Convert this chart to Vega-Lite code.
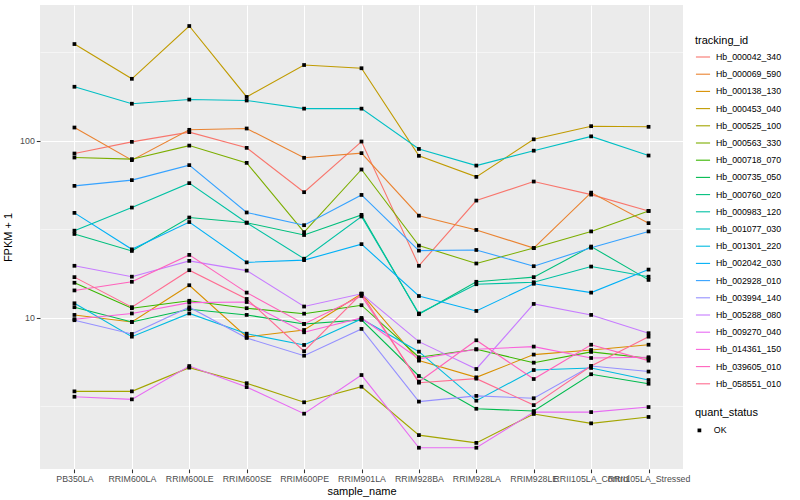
{
 "$schema": "https://vega.github.io/schema/vega-lite/v6.json",
 "width": 643,
 "height": 464,
 "autosize": {"type": "none"},
 "padding": {"left": 40, "top": 5, "right": 117, "bottom": 31},
 "background": "white",
 "config": {
  "font": "Liberation Sans",
  "view": {"fill": "#EBEBEB", "stroke": null},
  "axis": {"domain": false, "gridColor": "white", "gridWidth": 1.07, "tickColor": "#333333", "tickSize": 3.7, "tickWidth": 1.07, "labelColor": "#4D4D4D", "labelFontSize": 8.8, "labelPadding": 2, "titleFontSize": 11, "titleFontWeight": "normal", "titleColor": "black"},
  "legend": {"titleFontSize": 11, "titleFontWeight": "normal", "titleColor": "black", "labelFontSize": 8.8, "labelColor": "black"}
 },
 "data": {"values": [
  {"t":"Hb_000042_340","s":"PB350LA","v":84.8,"q":"OK"},{"t":"Hb_000042_340","s":"RRIM600LA","v":98.7,"q":"OK"},{"t":"Hb_000042_340","s":"RRIM600LE","v":112,"q":"OK"},{"t":"Hb_000042_340","s":"RRIM600SE","v":91.3,"q":"OK"},{"t":"Hb_000042_340","s":"RRIM600PE","v":51.3,"q":"OK"},{"t":"Hb_000042_340","s":"RRIM901LA","v":99.1,"q":"OK"},{"t":"Hb_000042_340","s":"RRIM928BA","v":19.7,"q":"OK"},{"t":"Hb_000042_340","s":"RRIM928LA","v":46.0,"q":"OK"},{"t":"Hb_000042_340","s":"RRIM928LE","v":58.9,"q":"OK"},{"t":"Hb_000042_340","s":"RRII105LA_Control","v":49.7,"q":"OK"},{"t":"Hb_000042_340","s":"RRII105LA_Stressed","v":40.2,"q":"OK"},
  {"t":"Hb_000069_590","s":"PB350LA","v":118.9,"q":"OK"},{"t":"Hb_000069_590","s":"RRIM600LA","v":77.8,"q":"OK"},{"t":"Hb_000069_590","s":"RRIM600LE","v":115.4,"q":"OK"},{"t":"Hb_000069_590","s":"RRIM600SE","v":117.4,"q":"OK"},{"t":"Hb_000069_590","s":"RRIM600PE","v":80.2,"q":"OK"},{"t":"Hb_000069_590","s":"RRIM901LA","v":85.2,"q":"OK"},{"t":"Hb_000069_590","s":"RRIM928BA","v":37.8,"q":"OK"},{"t":"Hb_000069_590","s":"RRIM928LA","v":31.4,"q":"OK"},{"t":"Hb_000069_590","s":"RRIM928LE","v":24.8,"q":"OK"},{"t":"Hb_000069_590","s":"RRII105LA_Control","v":51.0,"q":"OK"},{"t":"Hb_000069_590","s":"RRII105LA_Stressed","v":34.3,"q":"OK"},
  {"t":"Hb_000138_130","s":"PB350LA","v":10.4,"q":"OK"},{"t":"Hb_000138_130","s":"RRIM600LA","v":9.49,"q":"OK"},{"t":"Hb_000138_130","s":"RRIM600LE","v":15.3,"q":"OK"},{"t":"Hb_000138_130","s":"RRIM600SE","v":7.81,"q":"OK"},{"t":"Hb_000138_130","s":"RRIM600PE","v":8.55,"q":"OK"},{"t":"Hb_000138_130","s":"RRIM901LA","v":13.7,"q":"OK"},{"t":"Hb_000138_130","s":"RRIM928BA","v":5.74,"q":"OK"},{"t":"Hb_000138_130","s":"RRIM928LA","v":4.62,"q":"OK"},{"t":"Hb_000138_130","s":"RRIM928LE","v":6.21,"q":"OK"},{"t":"Hb_000138_130","s":"RRII105LA_Control","v":6.59,"q":"OK"},{"t":"Hb_000138_130","s":"RRII105LA_Stressed","v":7.06,"q":"OK"},
  {"t":"Hb_000453_040","s":"PB350LA","v":352,"q":"OK"},{"t":"Hb_000453_040","s":"RRIM600LA","v":224,"q":"OK"},{"t":"Hb_000453_040","s":"RRIM600LE","v":445,"q":"OK"},{"t":"Hb_000453_040","s":"RRIM600SE","v":177,"q":"OK"},{"t":"Hb_000453_040","s":"RRIM600PE","v":268,"q":"OK"},{"t":"Hb_000453_040","s":"RRIM901LA","v":257,"q":"OK"},{"t":"Hb_000453_040","s":"RRIM928BA","v":82.3,"q":"OK"},{"t":"Hb_000453_040","s":"RRIM928LA","v":62.6,"q":"OK"},{"t":"Hb_000453_040","s":"RRIM928LE","v":102,"q":"OK"},{"t":"Hb_000453_040","s":"RRII105LA_Control","v":121,"q":"OK"},{"t":"Hb_000453_040","s":"RRII105LA_Stressed","v":120,"q":"OK"},
  {"t":"Hb_000525_100","s":"PB350LA","v":3.85,"q":"OK"},{"t":"Hb_000525_100","s":"RRIM600LA","v":3.85,"q":"OK"},{"t":"Hb_000525_100","s":"RRIM600LE","v":5.24,"q":"OK"},{"t":"Hb_000525_100","s":"RRIM600SE","v":4.28,"q":"OK"},{"t":"Hb_000525_100","s":"RRIM600PE","v":3.34,"q":"OK"},{"t":"Hb_000525_100","s":"RRIM901LA","v":4.09,"q":"OK"},{"t":"Hb_000525_100","s":"RRIM928BA","v":2.18,"q":"OK"},{"t":"Hb_000525_100","s":"RRIM928LA","v":1.97,"q":"OK"},{"t":"Hb_000525_100","s":"RRIM928LE","v":2.87,"q":"OK"},{"t":"Hb_000525_100","s":"RRII105LA_Control","v":2.54,"q":"OK"},{"t":"Hb_000525_100","s":"RRII105LA_Stressed","v":2.76,"q":"OK"},
  {"t":"Hb_000563_330","s":"PB350LA","v":80.5,"q":"OK"},{"t":"Hb_000563_330","s":"RRIM600LA","v":78.8,"q":"OK"},{"t":"Hb_000563_330","s":"RRIM600LE","v":94,"q":"OK"},{"t":"Hb_000563_330","s":"RRIM600SE","v":75.1,"q":"OK"},{"t":"Hb_000563_330","s":"RRIM600PE","v":30.5,"q":"OK"},{"t":"Hb_000563_330","s":"RRIM901LA","v":68.9,"q":"OK"},{"t":"Hb_000563_330","s":"RRIM928BA","v":25.6,"q":"OK"},{"t":"Hb_000563_330","s":"RRIM928LA","v":20.3,"q":"OK"},{"t":"Hb_000563_330","s":"RRIM928LE","v":24.8,"q":"OK"},{"t":"Hb_000563_330","s":"RRII105LA_Control","v":30.8,"q":"OK"},{"t":"Hb_000563_330","s":"RRII105LA_Stressed","v":40.2,"q":"OK"},
  {"t":"Hb_000718_070","s":"PB350LA","v":15.8,"q":"OK"},{"t":"Hb_000718_070","s":"RRIM600LA","v":11.35,"q":"OK"},{"t":"Hb_000718_070","s":"RRIM600LE","v":12.5,"q":"OK"},{"t":"Hb_000718_070","s":"RRIM600SE","v":11.35,"q":"OK"},{"t":"Hb_000718_070","s":"RRIM600PE","v":10.57,"q":"OK"},{"t":"Hb_000718_070","s":"RRIM901LA","v":11.8,"q":"OK"},{"t":"Hb_000718_070","s":"RRIM928BA","v":6.0,"q":"OK"},{"t":"Hb_000718_070","s":"RRIM928LA","v":6.65,"q":"OK"},{"t":"Hb_000718_070","s":"RRIM928LE","v":5.59,"q":"OK"},{"t":"Hb_000718_070","s":"RRII105LA_Control","v":6.43,"q":"OK"},{"t":"Hb_000718_070","s":"RRII105LA_Stressed","v":5.92,"q":"OK"},
  {"t":"Hb_000735_050","s":"PB350LA","v":11.5,"q":"OK"},{"t":"Hb_000735_050","s":"RRIM600LA","v":9.49,"q":"OK"},{"t":"Hb_000735_050","s":"RRIM600LE","v":11.2,"q":"OK"},{"t":"Hb_000735_050","s":"RRIM600SE","v":10.4,"q":"OK"},{"t":"Hb_000735_050","s":"RRIM600PE","v":9.25,"q":"OK"},{"t":"Hb_000735_050","s":"RRIM901LA","v":9.75,"q":"OK"},{"t":"Hb_000735_050","s":"RRIM928BA","v":4.70,"q":"OK"},{"t":"Hb_000735_050","s":"RRIM928LA","v":3.07,"q":"OK"},{"t":"Hb_000735_050","s":"RRIM928LE","v":2.98,"q":"OK"},{"t":"Hb_000735_050","s":"RRII105LA_Control","v":4.81,"q":"OK"},{"t":"Hb_000735_050","s":"RRII105LA_Stressed","v":4.25,"q":"OK"},
  {"t":"Hb_000760_020","s":"PB350LA","v":29.8,"q":"OK"},{"t":"Hb_000760_020","s":"RRIM600LA","v":23.9,"q":"OK"},{"t":"Hb_000760_020","s":"RRIM600LE","v":36.9,"q":"OK"},{"t":"Hb_000760_020","s":"RRIM600SE","v":34.5,"q":"OK"},{"t":"Hb_000760_020","s":"RRIM600PE","v":29.4,"q":"OK"},{"t":"Hb_000760_020","s":"RRIM901LA","v":38.2,"q":"OK"},{"t":"Hb_000760_020","s":"RRIM928BA","v":10.5,"q":"OK"},{"t":"Hb_000760_020","s":"RRIM928LA","v":16.0,"q":"OK"},{"t":"Hb_000760_020","s":"RRIM928LE","v":17.0,"q":"OK"},{"t":"Hb_000760_020","s":"RRII105LA_Control","v":25.3,"q":"OK"},{"t":"Hb_000760_020","s":"RRII105LA_Stressed","v":16.4,"q":"OK"},
  {"t":"Hb_000983_120","s":"PB350LA","v":31.1,"q":"OK"},{"t":"Hb_000983_120","s":"RRIM600LA","v":42.0,"q":"OK"},{"t":"Hb_000983_120","s":"RRIM600LE","v":57.7,"q":"OK"},{"t":"Hb_000983_120","s":"RRIM600SE","v":34.5,"q":"OK"},{"t":"Hb_000983_120","s":"RRIM600PE","v":21.6,"q":"OK"},{"t":"Hb_000983_120","s":"RRIM901LA","v":37.4,"q":"OK"},{"t":"Hb_000983_120","s":"RRIM928BA","v":10.6,"q":"OK"},{"t":"Hb_000983_120","s":"RRIM928LA","v":15.5,"q":"OK"},{"t":"Hb_000983_120","s":"RRIM928LE","v":15.9,"q":"OK"},{"t":"Hb_000983_120","s":"RRII105LA_Control","v":19.5,"q":"OK"},{"t":"Hb_000983_120","s":"RRII105LA_Stressed","v":17.1,"q":"OK"},
  {"t":"Hb_001077_030","s":"PB350LA","v":202,"q":"OK"},{"t":"Hb_001077_030","s":"RRIM600LA","v":162,"q":"OK"},{"t":"Hb_001077_030","s":"RRIM600LE","v":171,"q":"OK"},{"t":"Hb_001077_030","s":"RRIM600SE","v":169,"q":"OK"},{"t":"Hb_001077_030","s":"RRIM600PE","v":152,"q":"OK"},{"t":"Hb_001077_030","s":"RRIM901LA","v":152,"q":"OK"},{"t":"Hb_001077_030","s":"RRIM928BA","v":90,"q":"OK"},{"t":"Hb_001077_030","s":"RRIM928LA","v":72.5,"q":"OK"},{"t":"Hb_001077_030","s":"RRIM928LE","v":88,"q":"OK"},{"t":"Hb_001077_030","s":"RRII105LA_Control","v":106,"q":"OK"},{"t":"Hb_001077_030","s":"RRII105LA_Stressed","v":82.6,"q":"OK"},
  {"t":"Hb_001301_220","s":"PB350LA","v":12.1,"q":"OK"},{"t":"Hb_001301_220","s":"RRIM600LA","v":7.84,"q":"OK"},{"t":"Hb_001301_220","s":"RRIM600LE","v":10.6,"q":"OK"},{"t":"Hb_001301_220","s":"RRIM600SE","v":8.15,"q":"OK"},{"t":"Hb_001301_220","s":"RRIM600PE","v":7.04,"q":"OK"},{"t":"Hb_001301_220","s":"RRIM901LA","v":9.87,"q":"OK"},{"t":"Hb_001301_220","s":"RRIM928BA","v":6.45,"q":"OK"},{"t":"Hb_001301_220","s":"RRIM928LA","v":3.41,"q":"OK"},{"t":"Hb_001301_220","s":"RRIM928LE","v":5.08,"q":"OK"},{"t":"Hb_001301_220","s":"RRII105LA_Control","v":5.22,"q":"OK"},{"t":"Hb_001301_220","s":"RRII105LA_Stressed","v":4.46,"q":"OK"},
  {"t":"Hb_002042_030","s":"PB350LA","v":39.2,"q":"OK"},{"t":"Hb_002042_030","s":"RRIM600LA","v":24.4,"q":"OK"},{"t":"Hb_002042_030","s":"RRIM600LE","v":34.8,"q":"OK"},{"t":"Hb_002042_030","s":"RRIM600SE","v":20.6,"q":"OK"},{"t":"Hb_002042_030","s":"RRIM600PE","v":21.2,"q":"OK"},{"t":"Hb_002042_030","s":"RRIM901LA","v":26.1,"q":"OK"},{"t":"Hb_002042_030","s":"RRIM928BA","v":13.3,"q":"OK"},{"t":"Hb_002042_030","s":"RRIM928LA","v":10.95,"q":"OK"},{"t":"Hb_002042_030","s":"RRIM928LE","v":15.6,"q":"OK"},{"t":"Hb_002042_030","s":"RRII105LA_Control","v":13.9,"q":"OK"},{"t":"Hb_002042_030","s":"RRII105LA_Stressed","v":18.75,"q":"OK"},
  {"t":"Hb_002928_010","s":"PB350LA","v":55.7,"q":"OK"},{"t":"Hb_002928_010","s":"RRIM600LA","v":60,"q":"OK"},{"t":"Hb_002928_010","s":"RRIM600LE","v":72.9,"q":"OK"},{"t":"Hb_002928_010","s":"RRIM600SE","v":39.4,"q":"OK"},{"t":"Hb_002928_010","s":"RRIM600PE","v":33.4,"q":"OK"},{"t":"Hb_002928_010","s":"RRIM901LA","v":49.5,"q":"OK"},{"t":"Hb_002928_010","s":"RRIM928BA","v":24,"q":"OK"},{"t":"Hb_002928_010","s":"RRIM928LA","v":24.2,"q":"OK"},{"t":"Hb_002928_010","s":"RRIM928LE","v":19.6,"q":"OK"},{"t":"Hb_002928_010","s":"RRII105LA_Control","v":24.9,"q":"OK"},{"t":"Hb_002928_010","s":"RRII105LA_Stressed","v":30.8,"q":"OK"},
  {"t":"Hb_003994_140","s":"PB350LA","v":9.71,"q":"OK"},{"t":"Hb_003994_140","s":"RRIM600LA","v":8.12,"q":"OK"},{"t":"Hb_003994_140","s":"RRIM600LE","v":11.5,"q":"OK"},{"t":"Hb_003994_140","s":"RRIM600SE","v":7.71,"q":"OK"},{"t":"Hb_003994_140","s":"RRIM600PE","v":6.12,"q":"OK"},{"t":"Hb_003994_140","s":"RRIM901LA","v":8.67,"q":"OK"},{"t":"Hb_003994_140","s":"RRIM928BA","v":3.37,"q":"OK"},{"t":"Hb_003994_140","s":"RRIM928LA","v":3.63,"q":"OK"},{"t":"Hb_003994_140","s":"RRIM928LE","v":3.52,"q":"OK"},{"t":"Hb_003994_140","s":"RRII105LA_Control","v":5.35,"q":"OK"},{"t":"Hb_003994_140","s":"RRII105LA_Stressed","v":4.98,"q":"OK"},
  {"t":"Hb_005288_080","s":"PB350LA","v":19.7,"q":"OK"},{"t":"Hb_005288_080","s":"RRIM600LA","v":17.1,"q":"OK"},{"t":"Hb_005288_080","s":"RRIM600LE","v":21.0,"q":"OK"},{"t":"Hb_005288_080","s":"RRIM600SE","v":18.5,"q":"OK"},{"t":"Hb_005288_080","s":"RRIM600PE","v":11.6,"q":"OK"},{"t":"Hb_005288_080","s":"RRIM901LA","v":13.7,"q":"OK"},{"t":"Hb_005288_080","s":"RRIM928BA","v":7.35,"q":"OK"},{"t":"Hb_005288_080","s":"RRIM928LA","v":5.15,"q":"OK"},{"t":"Hb_005288_080","s":"RRIM928LE","v":12.0,"q":"OK"},{"t":"Hb_005288_080","s":"RRII105LA_Control","v":10.4,"q":"OK"},{"t":"Hb_005288_080","s":"RRII105LA_Stressed","v":8.2,"q":"OK"},
  {"t":"Hb_009270_040","s":"PB350LA","v":3.59,"q":"OK"},{"t":"Hb_009270_040","s":"RRIM600LA","v":3.47,"q":"OK"},{"t":"Hb_009270_040","s":"RRIM600LE","v":5.35,"q":"OK"},{"t":"Hb_009270_040","s":"RRIM600SE","v":4.07,"q":"OK"},{"t":"Hb_009270_040","s":"RRIM600PE","v":2.88,"q":"OK"},{"t":"Hb_009270_040","s":"RRIM901LA","v":4.76,"q":"OK"},{"t":"Hb_009270_040","s":"RRIM928BA","v":1.85,"q":"OK"},{"t":"Hb_009270_040","s":"RRIM928LA","v":1.85,"q":"OK"},{"t":"Hb_009270_040","s":"RRIM928LE","v":2.94,"q":"OK"},{"t":"Hb_009270_040","s":"RRII105LA_Control","v":2.94,"q":"OK"},{"t":"Hb_009270_040","s":"RRII105LA_Stressed","v":3.14,"q":"OK"},
  {"t":"Hb_014361_150","s":"PB350LA","v":9.84,"q":"OK"},{"t":"Hb_014361_150","s":"RRIM600LA","v":10.6,"q":"OK"},{"t":"Hb_014361_150","s":"RRIM600LE","v":12.2,"q":"OK"},{"t":"Hb_014361_150","s":"RRIM600SE","v":12.3,"q":"OK"},{"t":"Hb_014361_150","s":"RRIM600PE","v":8.3,"q":"OK"},{"t":"Hb_014361_150","s":"RRIM901LA","v":10.0,"q":"OK"},{"t":"Hb_014361_150","s":"RRIM928BA","v":5.87,"q":"OK"},{"t":"Hb_014361_150","s":"RRIM928LA","v":6.65,"q":"OK"},{"t":"Hb_014361_150","s":"RRIM928LE","v":6.89,"q":"OK"},{"t":"Hb_014361_150","s":"RRII105LA_Control","v":5.94,"q":"OK"},{"t":"Hb_014361_150","s":"RRII105LA_Stressed","v":6.0,"q":"OK"},
  {"t":"Hb_039605_010","s":"PB350LA","v":14.3,"q":"OK"},{"t":"Hb_039605_010","s":"RRIM600LA","v":16.0,"q":"OK"},{"t":"Hb_039605_010","s":"RRIM600LE","v":22.7,"q":"OK"},{"t":"Hb_039605_010","s":"RRIM600SE","v":13.9,"q":"OK"},{"t":"Hb_039605_010","s":"RRIM600PE","v":9.25,"q":"OK"},{"t":"Hb_039605_010","s":"RRIM901LA","v":13.3,"q":"OK"},{"t":"Hb_039605_010","s":"RRIM928BA","v":4.37,"q":"OK"},{"t":"Hb_039605_010","s":"RRIM928LA","v":7.48,"q":"OK"},{"t":"Hb_039605_010","s":"RRIM928LE","v":4.52,"q":"OK"},{"t":"Hb_039605_010","s":"RRII105LA_Control","v":7.06,"q":"OK"},{"t":"Hb_039605_010","s":"RRII105LA_Stressed","v":5.74,"q":"OK"},
  {"t":"Hb_058551_010","s":"PB350LA","v":17.0,"q":"OK"},{"t":"Hb_058551_010","s":"RRIM600LA","v":11.5,"q":"OK"},{"t":"Hb_058551_010","s":"RRIM600LE","v":18.6,"q":"OK"},{"t":"Hb_058551_010","s":"RRIM600SE","v":12.8,"q":"OK"},{"t":"Hb_058551_010","s":"RRIM600PE","v":6.49,"q":"OK"},{"t":"Hb_058551_010","s":"RRIM901LA","v":13.7,"q":"OK"},{"t":"Hb_058551_010","s":"RRIM928BA","v":4.31,"q":"OK"},{"t":"Hb_058551_010","s":"RRIM928LA","v":4.54,"q":"OK"},{"t":"Hb_058551_010","s":"RRIM928LE","v":3.22,"q":"OK"},{"t":"Hb_058551_010","s":"RRII105LA_Control","v":5.35,"q":"OK"},{"t":"Hb_058551_010","s":"RRII105LA_Stressed","v":7.84,"q":"OK"}
 ]},
 "encoding": {
  "x": {"field": "s", "type": "nominal",
   "sort": ["PB350LA","RRIM600LA","RRIM600LE","RRIM600SE","RRIM600PE","RRIM901LA","RRIM928BA","RRIM928LA","RRIM928LE","RRII105LA_Control","RRII105LA_Stressed"],
   "scale": {"type": "point", "padding": 0.6},
   "axis": {"title": "sample_name", "labelAngle": 0, "grid": true, "labelOverlap": false, "titlePadding": 2}},
  "y": {"field": "v", "type": "quantitative",
   "scale": {"type": "log", "domain": [1.403, 584.8], "nice": false, "zero": false},
   "axis": {"title": "FPKM + 1", "values": [3.1623, 10, 31.623, 100, 316.23],
    "labelExpr": "datum.value == 10 ? '10' : (datum.value == 100 ? '100' : '')",
    "gridWidth": {"condition": {"test": "datum.value == 10 || datum.value == 100", "value": 1.07}, "value": 0.53},
    "tickOpacity": {"condition": {"test": "datum.value == 10 || datum.value == 100", "value": 1}, "value": 0},
    "titlePadding": 6}}
 },
 "layer": [
  {"mark": {"type": "line", "strokeWidth": 1.1},
   "encoding": {"color": {"field": "t", "type": "nominal", "title": "tracking_id",
    "scale": {"range": ["#F8766D","#EA8331","#D89000","#C09B00","#A3A500","#7CAE00","#39B600","#00BB4E","#00BF7D","#00C1A3","#00BFC4","#00BAE0","#00B0F6","#35A2FF","#9590FF","#C77CFF","#E76BF3","#FA62DB","#FF62BC","#FF6C91"]},
    "legend": {"orient": "none", "legendX": 655, "legendY": 30, "symbolType": "stroke", "symbolSize": 200, "symbolStrokeWidth": 1.1, "rowPadding": 4.2, "titlePadding": 3, "labelOffset": 5}}}},
  {"mark": {"type": "point", "filled": true, "size": 14, "opacity": 1, "color": "black"},
   "encoding": {"shape": {"field": "q", "type": "nominal", "title": "quant_status",
    "scale": {"range": ["square"]},
    "legend": {"orient": "none", "legendX": 655, "legendY": 402, "symbolSize": 14, "symbolFillColor": "black", "symbolStrokeColor": "black", "titlePadding": 8, "labelOffset": 10}}}}
 ]
}
